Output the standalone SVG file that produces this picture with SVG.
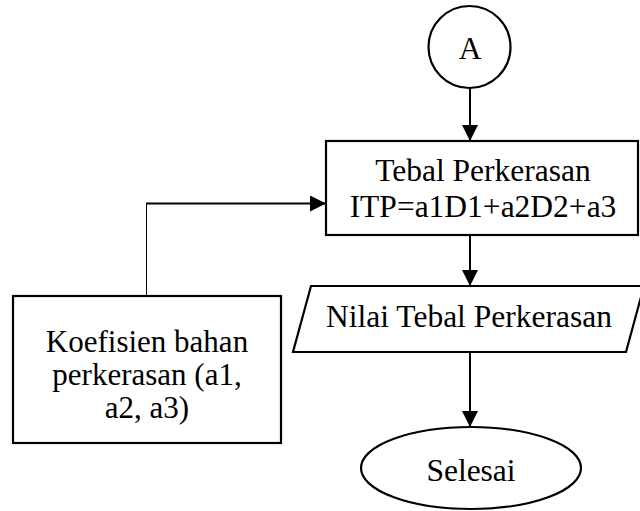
<svg xmlns="http://www.w3.org/2000/svg" width="640" height="511" viewBox="0 0 640 511">
  <defs>
    <style>
      .shape { fill: #fff; stroke: #000; stroke-width: 2.2; }
      .line { fill: none; stroke: #000; stroke-width: 2; }
      .thin { fill: none; stroke: #000; stroke-width: 1; }
      .label { font-family: "Liberation Serif", "Times New Roman", serif; font-size: 31.5px; fill: #000; text-anchor: middle; }
      .small { font-size: 31px; }
    </style>
    <marker id="arrow" markerUnits="userSpaceOnUse" markerWidth="16" markerHeight="16" refX="16" refY="8" orient="auto">
      <path d="M0,0 L16,8 L0,16 Z" fill="#000"/>
    </marker>
  </defs>
  <rect width="640" height="511" fill="#fff"/>

  <g id="connectors">
    <line class="line" x1="470" y1="88" x2="470" y2="141" marker-end="url(#arrow)"/>
    <polyline class="thin" points="146.5,296 146.5,203.5"/>
    <line class="line" x1="146" y1="203.5" x2="326" y2="203.5" marker-end="url(#arrow)"/>
    <line class="line" x1="470" y1="235" x2="470" y2="286" marker-end="url(#arrow)"/>
    <line class="line" x1="470" y1="352" x2="470" y2="427" marker-end="url(#arrow)"/>
  </g>

  <g id="node-a">
    <circle class="shape" cx="469.5" cy="47" r="41"/>
    <text class="label" x="470" y="59">A</text>
  </g>

  <g id="node-itp">
    <rect class="shape" x="326" y="141" width="312" height="94"/>
    <text class="label" x="483" y="181">Tebal Perkerasan</text>
    <text class="label" x="483" y="217">ITP=a1D1+a2D2+a3</text>
  </g>

  <g id="node-koefisien">
    <rect class="shape" x="13" y="296" width="268" height="147"/>
    <text class="label small" x="147" y="352">Koefisien bahan</text>
    <text class="label small" x="147" y="385">perkerasan (a1,</text>
    <text class="label small" x="147" y="418">a2, a3)</text>
  </g>

  <g id="node-nilai">
    <polygon class="shape" points="311,286 644,286 626,352 293,352"/>
    <text class="label" x="469" y="327">Nilai Tebal Perkerasan</text>
  </g>

  <g id="node-selesai">
    <ellipse class="shape" cx="471" cy="468" rx="110" ry="41"/>
    <text class="label" x="471" y="481">Selesai</text>
  </g>
</svg>
